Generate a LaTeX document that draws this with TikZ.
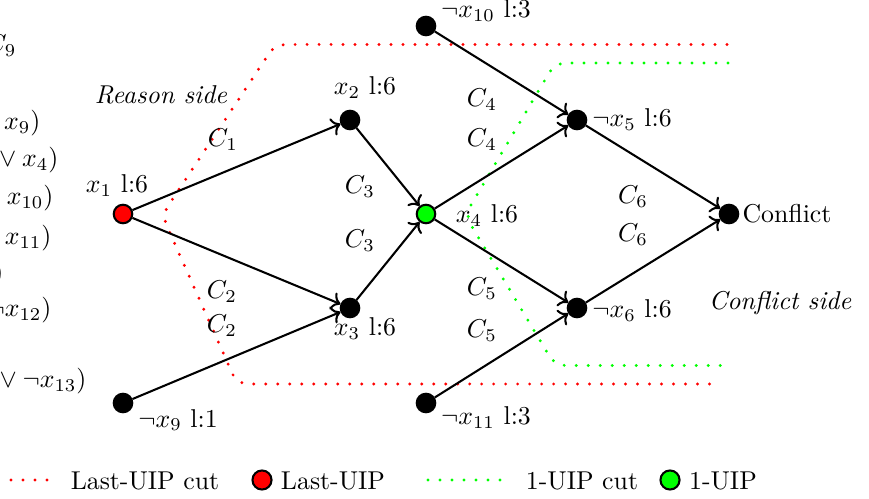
\documentclass[tikz,border=0pt]{standalone}
\usetikzlibrary{arrows.meta}
\begin{document}
\begin{tikzpicture}[x=0.3876pt, y=-0.3876pt,
  dot/.style={circle, draw=black, fill=black, thick, minimum size=7.2pt, inner sep=0pt},
  reddot/.style={dot, fill=red},
  greendot/.style={dot, fill=green},
  edgeline/.style={thick, ->},
  cutline/.style={line width=1.25pt, line cap=round, dash pattern=on 0pt off 4.65pt, rounded corners=4pt},
  lbl/.style={anchor=base, inner sep=0pt},
  cl/.style={anchor=center, inner sep=0pt},
  clause/.style={anchor=base east, inner sep=0pt}]
\useasboundingbox (0,0) rectangle (869,499);
\clip (0,0) rectangle (869,499);

% clipped clause list on the left
\node[clause] (k9) at (17,52.5) {$C_9$};
\node[clause] (k1) at (41,130) {$x_9)$};
\node[clause] (k2) at (59,167) {${}\vee x_4)$};
\node[clause] (k3) at (54,205) {$x_{10})$};
\node[clause] (k4) at (52,245) {$x_{11})$};
\node[clause] (k5) at (4,280.5) {$)$};
\node[clause] (k6) at (52,317) {$\neg x_{12})$};
\node[clause] (k7) at (87,388) {${}\vee \neg x_{13})$};

% cuts
\draw[cutline, red] (727,44.5) -- (275,44.5) -- (162,215) -- (237,384) -- (718,384);
\draw[cutline, green] (728,63) -- (555,63) -- (465,215) -- (555,365.5) -- (728,365.5);

% nodes
\node[reddot] (x1) at (123,214) {};
\node[dot] (x2) at (350,120) {};
\node[dot] (x3) at (350,308) {};
\node[greendot] (x4) at (426,214) {};
\node[dot] (x10) at (426,26) {};
\node[dot] (x5) at (577,120) {};
\node[dot] (x6) at (577,308) {};
\node[dot] (cf) at (729,214) {};
\node[dot] (x9) at (123,403) {};
\node[dot] (x11) at (426,403) {};

% edges
\draw[edgeline] (x1) -- (x2);
\draw[edgeline] (x1) -- (x3);
\draw[edgeline] (x9) -- (x3);
\draw[edgeline] (x2) -- (x4);
\draw[edgeline] (x3) -- (x4);
\draw[edgeline] (x10) -- (x5);
\draw[edgeline] (x4) -- (x5);
\draw[edgeline] (x4) -- (x6);
\draw[edgeline] (x11) -- (x6);
\draw[edgeline] (x5) -- (cf);
\draw[edgeline] (x6) -- (cf);

% node labels
\node[lbl] (l1) at (117,193) {$x_1$ l:6};
\node[lbl] (l2) at (365,95) {$x_2$ l:6};
\node[lbl] (l3) at (365,336) {$x_3$ l:6};
\node[lbl] (l4) at (487,223) {$x_4$ l:6};
\node[lbl] (l10) at (486,18) {$\neg x_{10}$ l:3};
\node[lbl] (l5) at (632,127) {$\neg x_5$ l:6};
\node[lbl] (l6) at (632,318) {$\neg x_6$ l:6};
\node[lbl] (lc) at (787,223) {Conflict};
\node[lbl] (l9) at (178,427) {$\neg x_9$ l:1};
\node[lbl] (l11) at (486,425) {$\neg x_{11}$ l:3};

% clause labels
\node[cl] (c1) at (223,140) {$C_1$};
\node[cl] (c2a) at (222,292) {$C_2$};
\node[cl] (c2b) at (222,326) {$C_2$};
\node[cl] (c3a) at (360,187) {$C_3$};
\node[cl] (c3b) at (360,241) {$C_3$};
\node[cl] (c4a) at (482,100) {$C_4$};
\node[cl] (c4b) at (482,140) {$C_4$};
\node[cl] (c5a) at (482,289) {$C_5$};
\node[cl] (c5b) at (482,331) {$C_5$};
\node[cl] (c6a) at (633,197) {$C_6$};
\node[cl] (c6b) at (633,235) {$C_6$};

% side labels
\node[cl] (rs) at (161,95) {\itshape Reason side};
\node[cl] (cs) at (780,303) {\itshape Conflict side};

% legend
\coordinate (ra) at (11,480);
\coordinate (rb) at (47,480);
\draw[cutline, red] (ra) -- (rb);
\node[lbl] (t1) at (145,489) {Last-UIP cut};
\node[reddot, minimum size=7.4pt] (m1) at (262,480) {};
\node[lbl] (t2) at (333,489) {Last-UIP};
\coordinate (ga) at (428,480);
\coordinate (gb) at (503,480);
\draw[cutline, green] (ga) -- (gb);
\node[lbl] (t3) at (582,489) {1-UIP cut};
\node[greendot, minimum size=7.4pt] (m2) at (670,480) {};
\node[lbl] (t4) at (723,489) {1-UIP};
\end{tikzpicture}
\end{document}
